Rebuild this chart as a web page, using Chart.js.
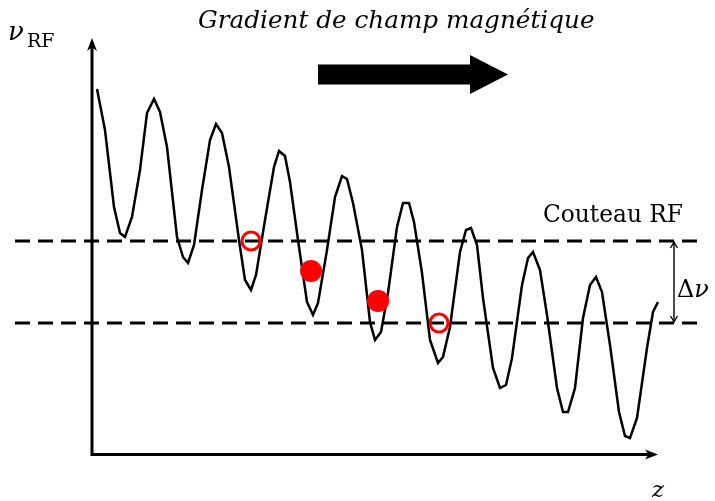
<!DOCTYPE html>
<html>
<head>
<meta charset="utf-8">
<script src="https://cdn.jsdelivr.net/npm/chart.js@4.4.1/dist/chart.umd.min.js"></script>
<style>
html, body { margin: 0; padding: 0; background: #fff; }
#wrap { width: 715px; height: 501px; }
</style>
</head>
<body>
<div id="wrap"><canvas id="c" width="715" height="501"></canvas></div>
<script>
// curve vertices (origin = corner of the axes)
var zVals  = [5, 13, 22, 28, 33, 40, 48, 55, 62, 68, 75, 85, 91, 96, 102, 110, 118, 124, 130, 137,
              147, 153, 159, 164, 173, 182, 187, 193, 198, 206, 215, 221, 226, 235, 243, 250, 255, 261, 270, 278,
              283, 289, 296, 305, 311, 317, 322, 330, 338, 346, 351, 358, 368, 374, 379, 385, 391, 401, 408, 414,
              420, 430, 436, 441, 448, 455, 465, 471, 476, 483, 491, 498, 504, 510, 518, 527, 533, 538, 545, 555,
              561, 566];
var nuVals = [364, 323, 246, 220, 216, 236, 283, 340, 354, 341, 306, 216, 196, 190, 208, 263, 313, 329, 320, 286,
              213, 173, 163, 178, 233, 286, 302, 297, 271, 213, 151, 138, 150, 203, 256, 277, 274, 250, 203, 131,
              113, 121, 160, 226, 250, 250, 231, 180, 113, 90, 96, 126, 201, 223, 225, 208, 155, 85, 65, 68,
              95, 168, 195, 201, 183, 138, 65, 41, 41, 65, 135, 168, 176, 161, 108, 41, 17, 15, 35, 105,
              141, 151];

// RF knife levels (upper / lower) and their horizontal extent
var knifeLevels = [212, 130];
var knifeSpan = [-77, 605];

// atoms : open circles sit on the knife edges, filled ones between
var openZ = [159, 347];
var openNu = [212, 130];
var fullZ = [219, 286];
var fullNu = [182, 152];

var zAxisEnd = 566, nuAxisEnd = 415;

function pts(xs, ys) {
  return xs.map(function (x, i) { return { x: x, y: ys[i] }; });
}

function arrowHead(ctx, x, y, ang, len, half) {
  ctx.save();
  ctx.translate(x, y);
  ctx.rotate(ang);
  ctx.beginPath();
  ctx.moveTo(0, 0);
  ctx.lineTo(-len, -half);
  ctx.lineTo(-len * 0.72, 0);
  ctx.lineTo(-len, half);
  ctx.closePath();
  ctx.fill();
  ctx.restore();
}

function thinHead(ctx, x, y, ang) {
  ctx.save();
  ctx.translate(x, y);
  ctx.rotate(ang);
  ctx.beginPath();
  ctx.moveTo(-6, -3.5);
  ctx.quadraticCurveTo(-2, -1, 0, 0);
  ctx.quadraticCurveTo(-2, 1, -6, 3.5);
  ctx.stroke();
  ctx.restore();
}

function fitText(ctx, txt, x, y, w, style, family) {
  ctx.font = style + ' 20px ' + family;
  var s = 20 * w / ctx.measureText(txt).width;
  ctx.font = style + ' ' + s.toFixed(1) + 'px ' + family;
  ctx.fillText(txt, x, y);
}

var decor = {
  id: 'decor',
  beforeDatasetsDraw: function (chart) {
    var ctx = chart.ctx, sx = chart.scales.x, sy = chart.scales.y;
    var x0 = sx.getPixelForValue(0), y0 = sy.getPixelForValue(0);
    var xe = sx.getPixelForValue(zAxisEnd), ye = sy.getPixelForValue(nuAxisEnd);
    ctx.save();
    ctx.strokeStyle = '#000';
    ctx.fillStyle = '#000';
    ctx.lineWidth = 3;
    ctx.lineCap = 'butt';
    ctx.beginPath();
    ctx.moveTo(x0, ye + 6);
    ctx.lineTo(x0, y0 + 1.5);
    ctx.lineTo(xe - 6, y0 + 1.5);
    ctx.stroke();
    arrowHead(ctx, x0, ye, -Math.PI / 2, 13, 5);
    arrowHead(ctx, xe, y0 + 1.5, 0, 13, 5);
    ctx.restore();
  },
  afterDraw: function (chart) {
    var ctx = chart.ctx, sx = chart.scales.x, sy = chart.scales.y;
    ctx.save();
    ctx.fillStyle = '#000';
    ctx.strokeStyle = '#000';
    ctx.textBaseline = 'alphabetic';
    ctx.textAlign = 'left';

    // big gradient arrow
    var ax0 = sx.getPixelForValue(226), ax1 = sx.getPixelForValue(378), axT = sx.getPixelForValue(416);
    var ac = 74.5;
    ctx.beginPath();
    ctx.moveTo(ax0, ac - 10);
    ctx.lineTo(ax1, ac - 10);
    ctx.lineTo(ax1, ac - 19.5);
    ctx.lineTo(axT, ac);
    ctx.lineTo(ax1, ac + 19.5);
    ctx.lineTo(ax1, ac + 10);
    ctx.lineTo(ax0, ac + 10);
    ctx.closePath();
    ctx.fill();

    // delta nu double arrow
    var dx = sx.getPixelForValue(582);
    var dTop = sy.getPixelForValue(knifeLevels[0]), dBot = sy.getPixelForValue(knifeLevels[1]);
    ctx.lineWidth = 1.4;
    ctx.beginPath();
    ctx.moveTo(dx, dTop + 1);
    ctx.lineTo(dx, dBot - 1);
    ctx.stroke();
    thinHead(ctx, dx, dTop + 1, -Math.PI / 2);
    thinHead(ctx, dx, dBot - 1, Math.PI / 2);

    // texts
    fitText(ctx, 'Gradient de champ magnétique', 198, 28, 397, 'italic', '"DejaVu Serif"');
    fitText(ctx, 'Couteau RF', 543, 222, 140, 'normal', '"DejaVu Serif"');
    ctx.font = 'italic 26px "DejaVu Serif"';
    ctx.fillText('\u03bd', 8, 40);
    ctx.font = '19px "DejaVu Serif"';
    ctx.fillText('RF', 27, 47);
    ctx.font = 'italic 23px "DejaVu Serif"';
    ctx.fillText('z', 652, 497);
    ctx.font = '24px "DejaVu Serif"';
    ctx.fillText('\u0394', 677, 297);
    var dw = ctx.measureText('\u0394').width;
    ctx.font = 'italic 24px "DejaVu Serif"';
    ctx.fillText('\u03bd', 677 + dw, 297);
    ctx.restore();
  }
};

document.addEventListener('DOMContentLoaded', function () {
  var knifeSets = knifeLevels.map(function (lv) {
    return {
      data: pts(knifeSpan, [lv, lv]),
      showLine: true,
      borderColor: '#000',
      borderWidth: 3,
      borderDash: [15, 8],
      pointRadius: 0,
      order: 3
    };
  });

  new Chart(document.getElementById('c'), {
    type: 'scatter',
    data: {
      datasets: [
        {
          data: pts(fullZ, fullNu),
          pointRadius: 11,
          pointBackgroundColor: '#ff0000',
          pointBorderColor: '#ff0000',
          pointBorderWidth: 0,
          order: 0
        },
        {
          data: pts(openZ, openNu),
          pointRadius: 9,
          pointBackgroundColor: 'rgba(0,0,0,0)',
          pointBorderColor: '#ff0000',
          pointBorderWidth: 3,
          order: 0
        },
        {
          data: pts(zVals, nuVals),
          showLine: true,
          borderColor: '#000',
          borderWidth: 2.5,
          pointRadius: 0,
          tension: 0,
          order: 2
        }
      ].concat(knifeSets)
    },
    options: {
      responsive: false,
      animation: false,
      layout: { padding: { left: 15, right: 18, top: 30, bottom: 41 } },
      scales: {
        x: { type: 'linear', min: -77, max: 605, display: false },
        y: { type: 'linear', min: -7, max: 423, display: false }
      },
      plugins: { legend: { display: false }, tooltip: { enabled: false } }
    },
    plugins: [decor]
  });
});
</script>
</body>
</html>
